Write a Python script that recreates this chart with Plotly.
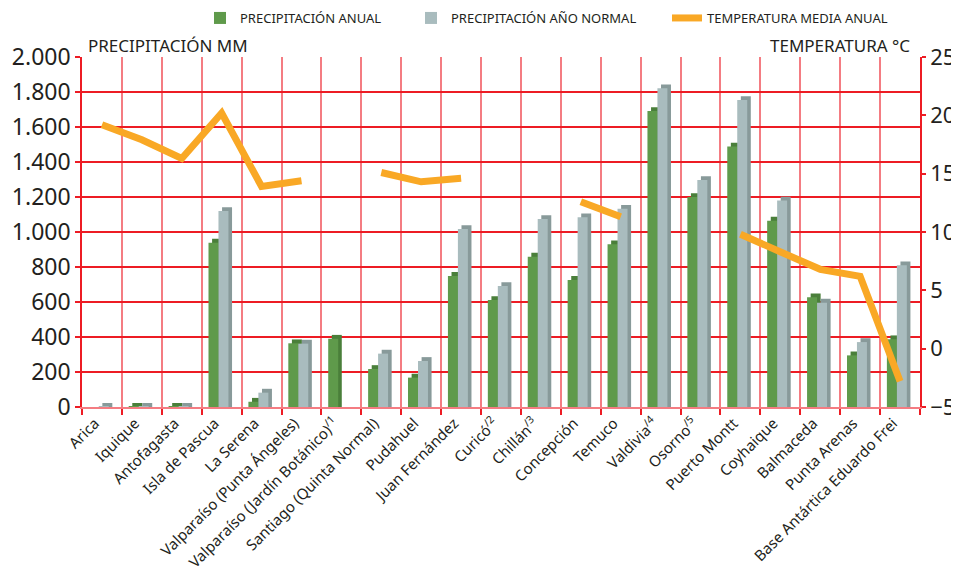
import plotly.graph_objects as go

categories = [
    "Arica", "Iquique", "Antofagasta", "Isla de Pascua", "La Serena",
    "Valparaíso (Punta Ángeles)", "Valparaíso (Jardín Botánico)<sup>/1</sup>",
    "Santiago (Quinta Normal)", "Pudahuel", "Juan Fernández",
    "Curicó<sup>/2</sup>", "Chillán<sup>/3</sup>", "Concepción", "Temuco",
    "Valdivia<sup>/4</sup>", "Osorno<sup>/5</sup>", "Puerto Montt", "Coyhaique",
    "Balmaceda", "Punta Arenas", "Base Antártica Eduardo Frei",
]
precip_anual = [None, 1, 1, 939, 30, 364, 390, 217, 168, 749,
                611, 859, 726, 930, 1691, 1200, 1488, 1065, 627, 295, 387]
precip_normal = [1, 1, 1, 1120, 82, 362, None, 305, 263, 1017,
                 691, 1074, 1084, 1133, 1821, 1297, 1754, 1180, 596, 371, 810]
temperatura = [19.2, 17.9, 16.3, 20.2, 13.9, 14.4, None, 15.1, 14.3, 14.6,
               None, None, 12.6, 11.3, None, None, 9.8, 8.3, 6.8, 6.2, -2.8]

FONT = "Noto Sans"
RED = "#ed1c24"
PINK = "#f47c82"
DEPTH = 22  # mm, pseudo-3D depth
W, H = 951, 561  # page body margin of 8px is compensated

def shadow(vals):
    return [None if v is None else v + DEPTH for v in vals]

fig = go.Figure()
fig.add_trace(go.Bar(x=categories, y=shadow(precip_anual), offset=-0.24, width=0.25,
                     marker=dict(color="#4a7f3a", line=dict(width=0)),
                     showlegend=False, hoverinfo="skip"))
fig.add_trace(go.Bar(x=categories, y=precip_anual, offset=-0.33, width=0.25,
                     name="PRECIPITACIÓN ANUAL", legend="legend",
                     marker=dict(color="#5f9a4b", line=dict(width=0))))
fig.add_trace(go.Bar(x=categories, y=shadow(precip_normal), offset=0.01, width=0.25,
                     marker=dict(color="#889a9a", line=dict(width=0)),
                     showlegend=False, hoverinfo="skip"))
fig.add_trace(go.Bar(x=categories, y=precip_normal, offset=-0.08, width=0.25,
                     name="PRECIPITACIÓN AÑO NORMAL", legend="legend2",
                     marker=dict(color="#a9bcbe", line=dict(width=0))))
fig.add_trace(go.Scatter(x=categories, y=temperatura, yaxis="y2", mode="lines",
                         name="TEMPERATURA MEDIA ANUAL", connectgaps=False,
                         legend="legend3",
                         line=dict(color="#f9a825", width=7)))

legend_common = dict(orientation="h", xref="container", yref="container",
                     y=1 - 10 / H, xanchor="left", yanchor="middle",
                     font=dict(size=13, family=FONT, color="#231f20"),
                     bgcolor="rgba(0,0,0,0)", itemwidth=30)

fig.update_layout(
    width=W, height=H,
    margin=dict(l=74, r=39, t=49, b=162, autoexpand=False),
    paper_bgcolor="white", plot_bgcolor="white",
    barmode="overlay", separators=",.",
    font=dict(family=FONT, color="#231f20"),
    legend=dict(x=192 / W, **legend_common),
    legend2=dict(x=403 / W, **legend_common),
    legend3=dict(x=659 / W, **legend_common),
    xaxis=dict(type="category", tickson="boundaries", showgrid=True,
               gridcolor=PINK, gridwidth=1.5, tickangle=-45,
               tickfont=dict(size=15, family=FONT, color="#231f20"),
               ticklabelshift=-7,
               ticks="outside", ticklen=6, tickcolor=RED, tickwidth=1.5,
               showline=True, linecolor=PINK, linewidth=1.5,
               range=[-0.5, 20.5], fixedrange=True),
    yaxis=dict(range=[0, 2000], dtick=200, tickformat=",",
               showgrid=True, gridcolor=RED, gridwidth=1.5,
               tickfont=dict(size=23, family=FONT, color="#231f20"),
               ticks="outside", ticklen=5, tickcolor=RED, tickwidth=1.5,
               showline=True, linecolor=RED, linewidth=1.5, zeroline=False),
    yaxis2=dict(range=[-5, 25], dtick=5, overlaying="y", side="right",
                showgrid=False, zeroline=False,
                tickfont=dict(size=22, family=FONT, color="#231f20"),
                ticks="outside", ticklen=4, tickcolor=RED, tickwidth=1.5,
                showline=True, linecolor=RED, linewidth=1.5),
    annotations=[
        dict(text="PRECIPITACIÓN MM", xref="paper", yref="paper", x=0.005, y=1.0,
             xanchor="left", yanchor="bottom", showarrow=False, yshift=-2,
             font=dict(size=17, family=FONT, color="#231f20")),
        dict(text="TEMPERATURA °C", xref="paper", yref="paper", x=0.99, y=1.0,
             xanchor="right", yanchor="bottom", showarrow=False, yshift=-2,
             font=dict(size=17, family=FONT, color="#231f20")),
    ],
)

fig.write_html("out.html")
